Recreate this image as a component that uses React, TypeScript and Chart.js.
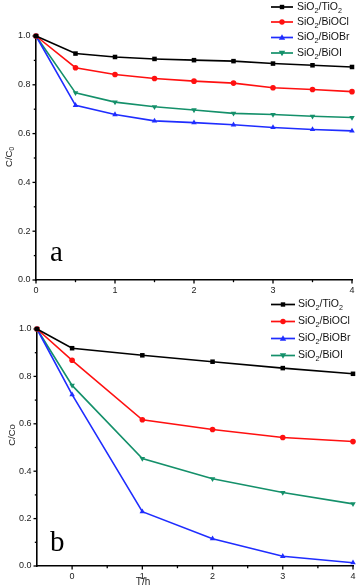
import React, { useEffect, useRef } from 'react';
import { Chart, registerables } from 'chart.js';

Chart.register(...registerables);

// ---- data ----
const seriesNames = ['SiO₂/TiO₂', 'SiO₂/BiOCl', 'SiO₂/BiOBr', 'SiO₂/BiOI'];
const seriesColors = ['#000000', '#ff1010', '#1f2dff', '#14906a'];
const seriesMarkers = ['rect', 'circle', 'triangle', 'triangleDown'];

const timeA = [0, 0.5, 1, 1.5, 2, 2.5, 3, 3.5, 4];
const tio2A = [1, 0.928, 0.914, 0.906, 0.901, 0.897, 0.887, 0.88, 0.873];
const bioclA = [1, 0.87, 0.842, 0.826, 0.815, 0.807, 0.788, 0.781, 0.772];
const biobrA = [1, 0.716, 0.678, 0.652, 0.645, 0.636, 0.625, 0.617, 0.611];
const bioiA = [1, 0.767, 0.729, 0.71, 0.697, 0.683, 0.678, 0.671, 0.666];

const timeB = [-0.5, 0, 1, 2, 3, 4];
const tio2B = [1, 0.919, 0.889, 0.862, 0.835, 0.811];
const bioclB = [1, 0.868, 0.617, 0.576, 0.542, 0.525];
const biobrB = [1, 0.723, 0.229, 0.115, 0.041, 0.014];
const bioiB = [1, 0.762, 0.453, 0.368, 0.31, 0.262];

const yTicks = [0, 0.2, 0.4, 0.6, 0.8, 1.0];
const yMinorTicks = [0.1, 0.3, 0.5, 0.7, 0.9];
const xTicks = [0, 1, 2, 3, 4];
const xMinorTicks = [0.5, 1.5, 2.5, 3.5];

const FONT = "'Liberation Sans', Arial, sans-serif";

type PanelCfg = {
  top: number;
  height: number;
  area: { left: number; right: number; top: number; bottom: number };
  xMin: number;
  xMax: number;
  xs: number[];
  series: number[][];
  letter: string;
  letterPos: [number, number];
  yTitle: string;
  yTitlePos: [number, number];
  xTitle?: string;
  xTitlePos?: [number, number];
  legendRows: number[];
  legendX: [number, number, number];
};

const panels: PanelCfg[] = [
  {
    top: 0,
    height: 296,
    area: { left: 36, right: 352, top: 36, bottom: 280 },
    xMin: 0,
    xMax: 4,
    xs: timeA,
    series: [tio2A, bioclA, biobrA, bioiA],
    letter: 'a',
    letterPos: [50, 260.5],
    yTitle: 'C/C₀',
    yTitlePos: [9, 157],
    legendRows: [7, 22, 37.5, 53],
    legendX: [271, 293, 297],
  },
  {
    top: 290,
    height: 298,
    area: { left: 37, right: 353, top: 39, bottom: 276 },
    xMin: -0.5,
    xMax: 4,
    xs: timeB,
    series: [tio2B, bioclB, biobrB, bioiB],
    letter: 'b',
    letterPos: [50, 260.5],
    yTitle: 'C/Co',
    yTitlePos: [12, 145],
    xTitle: 'T/h',
    xTitlePos: [143, 292],
    legendRows: [14.5, 31.5, 48.5, 65.5],
    legendX: [271, 295, 298],
  },
];

function drawRich(ctx: CanvasRenderingContext2D, text: string, x: number, y: number, size: number, align: 'left' | 'center') {
  const subMap: Record<string, string> = { '₀': '0', '₂': '2' };
  const parts: { t: string; sub: boolean; w: number }[] = [];
  for (const ch of text) {
    const sub = subMap[ch] !== undefined;
    const c = sub ? subMap[ch] : ch;
    const last = parts[parts.length - 1];
    if (last && last.sub === sub) last.t += c;
    else parts.push({ t: c, sub, w: 0 });
  }
  const subSize = size * 0.68;
  let total = 0;
  for (const p of parts) {
    ctx.font = `${p.sub ? subSize : size}px ${FONT}`;
    p.w = ctx.measureText(p.t).width;
    total += p.w;
  }
  let cx = align === 'center' ? x - total / 2 : x;
  ctx.textAlign = 'left';
  ctx.textBaseline = 'middle';
  for (const p of parts) {
    ctx.font = `${p.sub ? subSize : size}px ${FONT}`;
    ctx.fillText(p.t, cx, y + (p.sub ? size * 0.38 : 0));
    cx += p.w;
  }
}

function drawMarker(ctx: CanvasRenderingContext2D, kind: string, x: number, y: number, color: string) {
  ctx.fillStyle = color;
  ctx.beginPath();
  if (kind === 'rect') {
    ctx.rect(x - 2.2, y - 2.2, 4.4, 4.4);
  } else if (kind === 'circle') {
    ctx.arc(x, y, 2.7, 0, Math.PI * 2);
  } else if (kind === 'triangle') {
    ctx.moveTo(x, y - 3.2);
    ctx.lineTo(x + 3.2, y + 2.2);
    ctx.lineTo(x - 3.2, y + 2.2);
    ctx.closePath();
  } else {
    ctx.moveTo(x, y + 3.2);
    ctx.lineTo(x + 3.2, y - 2.2);
    ctx.lineTo(x - 3.2, y - 2.2);
    ctx.closePath();
  }
  ctx.fill();
}

function Panel({ cfg }: { cfg: PanelCfg }) {
  const ref = useRef<HTMLCanvasElement | null>(null);
  useEffect(() => {
    const W = 358;
    const H = cfg.height;
    const decor = {
      id: 'decor',
      afterDraw(chart: any) {
        const ctx: CanvasRenderingContext2D = chart.ctx;
        const xs = chart.scales.x;
        const ys = chart.scales.y;
        const ca = chart.chartArea;
        ctx.save();
        ctx.strokeStyle = '#000';
        ctx.lineWidth = 1.3;
        const tick = (v: number, len: number, axis: 'x' | 'y') => {
          ctx.beginPath();
          if (axis === 'x') {
            const px = xs.getPixelForValue(v);
            ctx.moveTo(px, ca.bottom);
            ctx.lineTo(px, ca.bottom + len);
          } else {
            const py = ys.getPixelForValue(v);
            ctx.moveTo(ca.left, py);
            ctx.lineTo(ca.left - len, py);
          }
          ctx.stroke();
        };
        xTicks.forEach((v) => tick(v, 3.5, 'x'));
        xMinorTicks.forEach((v) => tick(v, 2.2, 'x'));
        yTicks.forEach((v) => tick(v, 3.5, 'y'));
        yMinorTicks.forEach((v) => tick(v, 2.2, 'y'));

        // axis titles
        ctx.fillStyle = '#222';
        ctx.save();
        ctx.translate(cfg.yTitlePos[0], cfg.yTitlePos[1]);
        ctx.rotate(-Math.PI / 2);
        drawRich(ctx, cfg.yTitle, 0, 0, 9.5, 'center');
        ctx.restore();
        if (cfg.xTitle && cfg.xTitlePos) {
          drawRich(ctx, cfg.xTitle, cfg.xTitlePos[0], cfg.xTitlePos[1], 10, 'center');
        }

        // panel letter
        ctx.fillStyle = '#000';
        ctx.font = `29px 'Liberation Serif', 'Times New Roman', serif`;
        ctx.textAlign = 'left';
        ctx.textBaseline = 'alphabetic';
        ctx.fillText(cfg.letter, cfg.letterPos[0], cfg.letterPos[1]);

        // legend
        seriesNames.forEach((name, i) => {
          const y = cfg.legendRows[i];
          const [x0, x1, tx] = cfg.legendX;
          ctx.strokeStyle = seriesColors[i];
          ctx.lineWidth = 1.7;
          ctx.beginPath();
          ctx.moveTo(x0, y);
          ctx.lineTo(x1, y);
          ctx.stroke();
          drawMarker(ctx, seriesMarkers[i], (x0 + x1) / 2, y, seriesColors[i]);
          ctx.fillStyle = '#111';
          drawRich(ctx, name, tx, y, 10.5, 'left');
        });
        ctx.restore();
      },
    };

    const datasets = cfg.series.map((vals, i) => ({
      label: seriesNames[i],
      data: vals.map((v, j) => ({ x: cfg.xs[j], y: v })),
      borderColor: seriesColors[i],
      backgroundColor: seriesColors[i],
      borderWidth: 1.6,
      tension: 0,
      pointStyle: seriesMarkers[i] === 'triangleDown' ? 'triangle' : seriesMarkers[i],
      rotation: seriesMarkers[i] === 'triangleDown' ? 180 : 0,
      pointRadius: seriesMarkers[i] === 'circle' ? 2.8 : 3.2,
      pointBorderWidth: 0,
      clip: false as any,
    }));

    const chart = new Chart(ref.current as HTMLCanvasElement, {
      type: 'line',
      data: { datasets },
      options: {
        animation: false,
        responsive: false,
        devicePixelRatio: 1,
        layout: {
          padding: { top: cfg.area.top, left: 0, right: W - cfg.area.right, bottom: 0 },
        },
        plugins: { legend: { display: false }, tooltip: { enabled: false } },
        scales: {
          x: {
            type: 'linear',
            min: cfg.xMin,
            max: cfg.xMax,
            afterBuildTicks: (s: any) => {
              s.ticks = xTicks.map((v) => ({ value: v }));
            },
            afterFit: (s: any) => {
              s.height = H - cfg.area.bottom;
            },
            grid: { display: false, drawTicks: true, tickLength: 3.5 },
            border: { display: true, color: '#000', width: 1.6 },
            ticks: {
              font: { family: FONT, size: 9 },
              color: '#222',
              padding: 2,
              maxRotation: 0,
              autoSkip: false,
              callback: (v: any) => String(v),
            },
          },
          y: {
            type: 'linear',
            min: 0,
            max: 1,
            afterBuildTicks: (s: any) => {
              s.ticks = yTicks.map((v) => ({ value: v }));
            },
            afterFit: (s: any) => {
              s.width = cfg.area.left;
            },
            grid: { display: false, drawTicks: true, tickLength: 3.5 },
            border: { display: true, color: '#000', width: 1.6 },
            ticks: {
              font: { family: FONT, size: 9 },
              color: '#222',
              padding: 2,
              autoSkip: false,
              callback: (v: any) => Number(v).toFixed(1),
            },
          },
        },
      } as any,
      plugins: [decor],
    });
    return () => chart.destroy();
  }, [cfg]);

  return (
    <canvas
      ref={ref}
      width={358}
      height={cfg.height}
      style={{ position: 'absolute', left: 0, top: cfg.top, width: 358, height: cfg.height, display: 'block' }}
    />
  );
}

export default function App() {
  return (
    <div style={{ position: 'absolute', left: 0, top: 0, width: 358, height: 588, background: '#fff' }}>
      {panels.map((p, i) => (
        <Panel key={i} cfg={p} />
      ))}
    </div>
  );
}
